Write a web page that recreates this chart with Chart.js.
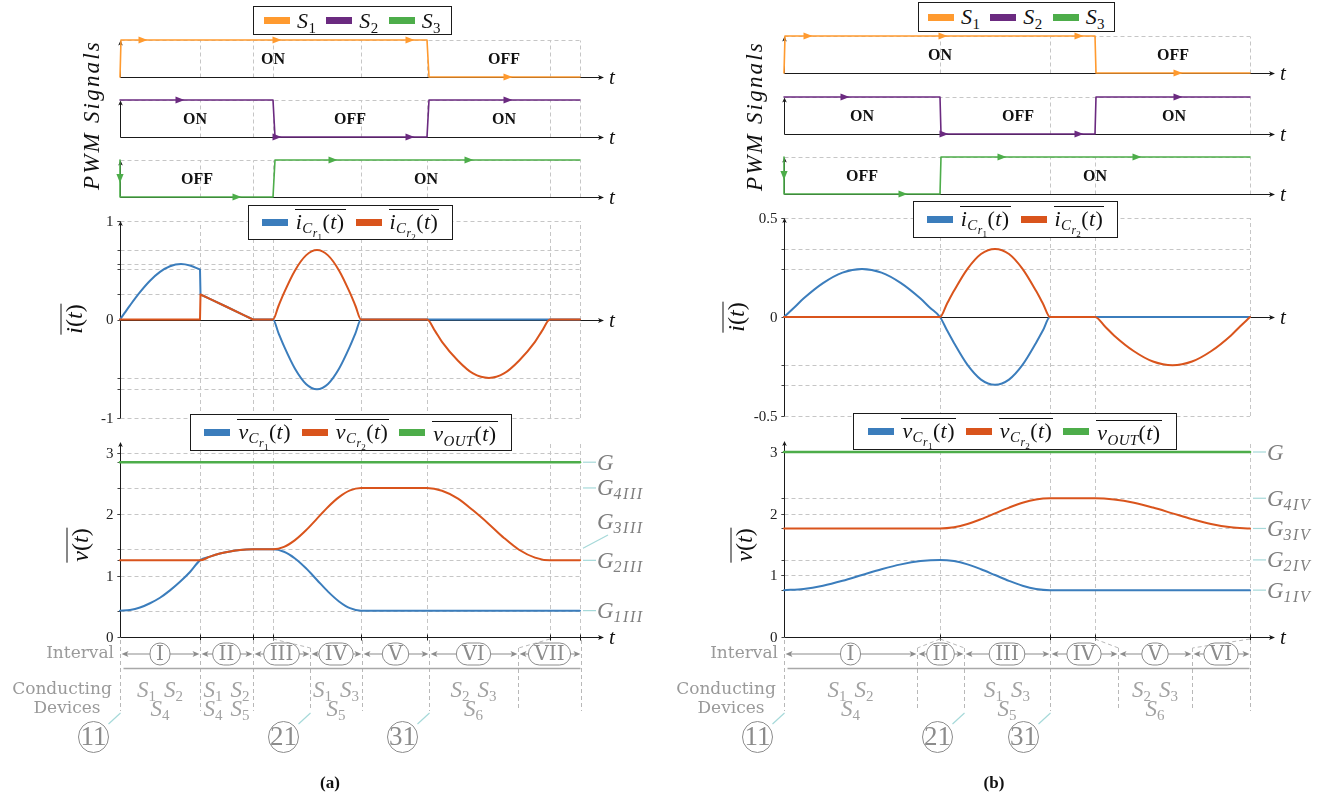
<!DOCTYPE html>
<html>
<head>
<meta charset="utf-8">
<script src="https://cdn.jsdelivr.net/npm/chart.js"></script>
<style>
html,body{margin:0;padding:0;background:#fff;}
#root{position:relative;width:1339px;height:799px;overflow:hidden;background:#fff;font-family:"Liberation Serif",serif;}
#root canvas{position:absolute;}
.lg{position:absolute;z-index:5;background:#fff;border:1.3px solid #1b1b1b;box-sizing:border-box;display:flex;align-items:center;justify-content:center;font-size:22px;color:#111;white-space:nowrap;}
.sw{display:inline-block;width:26px;height:7px;margin-right:7px;flex:none;}
.lb{margin-right:10px;line-height:22px;letter-spacing:0.4px;}
.lb:last-child{margin-right:0;}
.lb sub,.yt sub{font-size:68%;vertical-align:-0.32em;line-height:0;font-style:normal;}
.lb sub sub{font-size:78%;vertical-align:-0.3em;}
.ov{display:inline-block;border-top:1.2px solid #111;padding:1px 1px 0 1px;line-height:22px;}
.yt{position:absolute;z-index:4;transform:translate(-50%,-50%) rotate(-90deg);font-size:24px;white-space:nowrap;color:#111;}
.cap{position:absolute;z-index:4;transform:translate(-50%,-50%);font-weight:bold;font-size:17px;color:#111;}
</style>
</head>
<body>
<div id="root"></div>
<script>
// ================== DATA : panel (a) ==================
// (a null value only marks a break between two smooth pieces of the same curve)
const A_GRID_T = [0, 0.80, 1.33, 1.53, 2.41, 3.07, 4.30, 4.60];
const A_S1_T = [0, 0.01, 3.07, 3.09, 4.60];
const A_S1_Y = [0, 1, 1, 0, 0];
const A_S2_T = [0, 1.53, 1.55, 3.07, 3.09, 4.60];
const A_S2_Y = [1, 1, 0, 0, 1, 1];
const A_S3_T = [0, 0, 1.53, 1.55, 4.60];
const A_S3_Y = [1, 0, 0, 1, 1];
const A_S1_MARK_T = [0.23, 1.57, 2.90, 3.88];  const A_S1_MARK_Y = [1, 1, 1, 0];
const A_S2_MARK_T = [0.60, 1.57, 2.90, 3.88];  const A_S2_MARK_Y = [1, 0, 0, 1];
const A_S3_MARK_T = [1.17, 2.13, 3.49];        const A_S3_MARK_Y = [0, 1, 1];
const A_S1_TXT = ['ON', 'OFF'];        const A_S1_TXT_T = [1.53, 3.84];
const A_S2_TXT = ['ON', 'OFF', 'ON'];  const A_S2_TXT_T = [0.75, 2.30, 3.84];
const A_S3_TXT = ['OFF', 'ON'];        const A_S3_TXT_T = [0.77, 3.06];

const A_I1_T = [0,0.05,0.10,0.20,0.30,0.40,0.50,0.61,0.70,0.80, 0.80,0.80,0.805, 0.805,0.805,1.07,1.33, 1.33,1.33,1.53,1.585,1.64,1.75,1.86,1.97,2.08,2.19,2.30,2.355,2.41,4.60];
const A_I1_Y = [0,0.072,0.143,0.277,0.393,0.483,0.541,0.563,0.548,0.508, null,0.508,0.254, null,0.254,0.127,0, null,0,0,-0.138,-0.271,-0.50,-0.654,-0.708,-0.654,-0.50,-0.271,-0.138,0,0];
const A_I2_T = [0,0.80, 0.80,0.80,0.805, 0.805,0.805,1.07,1.33, 1.33,1.33,1.53,1.585,1.64,1.75,1.86,1.97,2.08,2.19,2.30,2.355,2.41,3.07,3.15,3.22,3.38,3.53,3.69,3.84,3.99,4.15,4.22,4.30,4.60];
const A_I2_Y = [0,0, null,0,0.254, null,0.254,0.127,0, null,0,0,0.137,0.27,0.498,0.651,0.705,0.651,0.498,0.27,0.137,0,0,-0.116,-0.227,-0.419,-0.548,-0.593,-0.548,-0.419,-0.227,-0.116,0,0];
const A_I_GRIDY = [1, 0.705, 0.563, 0.508, 0.254, -0.593, -0.708, -1];
const A_I_TICKS = [1, 0, -1];  const A_I_TICK_TXT = ['1', '0', '-1'];

const A_VO_T = [0, 4.60];  const A_VO_Y = [2.85, 2.85];
const A_V1_T = [0,0.10,0.20,0.30,0.40,0.50,0.60,0.70,0.80,0.90,1.00,1.10,1.20,1.33,1.53,1.64,1.75,1.86,1.97,2.08,2.19,2.30,2.41,4.60];
const A_V1_Y = [0.43,0.44,0.48,0.55,0.64,0.76,0.90,1.06,1.25,1.31,1.36,1.395,1.42,1.43,1.43,1.39,1.28,1.12,0.93,0.74,0.58,0.47,0.43,0.43];
const A_V2_T = [0,0.80,0.90,1.00,1.10,1.20,1.33,1.53,1.64,1.75,1.86,1.97,2.08,2.19,2.30,2.41,3.07,3.22,3.38,3.53,3.69,3.84,3.99,4.15,4.30,4.60];
const A_V2_Y = [1.25,1.25,1.31,1.36,1.395,1.42,1.43,1.43,1.47,1.58,1.74,1.93,2.12,2.28,2.39,2.43,2.43,2.385,2.257,2.065,1.84,1.615,1.423,1.295,1.25,1.25];
const A_V_GRIDY = [3, 2.85, 2.43, 2, 1.43, 1.25, 1, 0.43];
const A_V_TICKS = [0, 1, 2, 3];  const A_V_TICK_TXT = ['0', '1', '2', '3'];
const A_G_V   = [2.85, 2.43, 1.43, 1.25, 0.43];
const A_G_POS = [2.85, 2.43, 1.876, 1.25, 0.43];
const A_G_SUB = ['', '4III', '3III', '2III', '1III'];

const A_IV_B = [0, 0.80, 1.33, 1.90, 2.42, 3.09, 3.98, 4.61];
const A_IV_NAMES = ['I', 'II', 'III', 'IV', 'V', 'VI', 'VII'];
const A_DEV_IDX = [0, 1, 3, 5];
const A_DEV_L1 = [['1','2'], ['1','2'], ['1','3'], ['2','3']];
const A_DEV_L2 = [['4'], ['4','5'], ['5'], ['6']];
const A_CIRC = ['11', '21', '31'];  const A_CIRC_B = [0, 3, 5];
const A_CONN_FROM = [1.53, 4.30];   const A_CONN_TO = [3, 6];

// ================== DATA : panel (b) ==================
const B_GRID_T = [0, 1.56, 2.66, 3.11, 4.66];
const B_S1_T = [0, 0.01, 3.11, 3.12, 4.66];
const B_S1_Y = [0, 1, 1, 0, 0];
const B_S2_T = [0, 1.56, 1.57, 3.11, 3.12, 4.66];
const B_S2_Y = [1, 1, 0, 0, 1, 1];
const B_S3_T = [0, 0, 1.56, 1.57, 4.66];
const B_S3_Y = [1, 0, 0, 1, 1];
const B_S1_MARK_T = [0.24, 1.59, 2.95, 3.94];  const B_S1_MARK_Y = [1, 1, 1, 0];
const B_S2_MARK_T = [0.61, 1.60, 2.95, 3.94];  const B_S2_MARK_Y = [1, 0, 0, 1];
const B_S3_MARK_T = [1.19, 2.18, 3.53];        const B_S3_MARK_Y = [0, 1, 1];
const B_S1_TXT = ['ON', 'OFF'];        const B_S1_TXT_T = [1.56, 3.89];
const B_S2_TXT = ['ON', 'OFF', 'ON'];  const B_S2_TXT_T = [0.78, 2.34, 3.90];
const B_S3_TXT = ['OFF', 'ON'];        const B_S3_TXT_T = [0.78, 3.11];

const B_I1_T = [0,0.10,0.195,0.39,0.585,0.78,0.975,1.17,1.365,1.46,1.56,1.63,1.70,1.835,1.97,2.11,2.25,2.385,2.52,2.59,2.66,4.66];
const B_I1_Y = [0,0.047,0.093,0.171,0.224,0.242,0.224,0.171,0.093,0.047,0,-0.067,-0.131,-0.242,-0.316,-0.342,-0.316,-0.242,-0.131,-0.067,0,0];
const B_I2_T = [0,1.56,1.63,1.70,1.835,1.97,2.11,2.25,2.385,2.52,2.59,2.66,3.11,3.21,3.30,3.50,3.69,3.885,4.08,4.27,4.47,4.56,4.66];
const B_I2_Y = [0,0,0.067,0.132,0.243,0.318,0.344,0.318,0.243,0.132,0.067,0,0,-0.048,-0.093,-0.173,-0.225,-0.244,-0.225,-0.173,-0.093,-0.048,0];
const B_I_GRIDY = [0.5, 0.344, 0.242, -0.244, -0.342, -0.5];
const B_I_TICKS = [0.5, 0, -0.5];  const B_I_TICK_TXT = ['0.5', '0', '-0.5'];

const B_VO_T = [0, 4.66];  const B_VO_Y = [3.0, 3.0];
const B_V1_T = [0,0.195,0.39,0.585,0.78,0.975,1.17,1.365,1.56,1.70,1.835,1.97,2.11,2.25,2.385,2.52,2.66,4.66];
const B_V1_Y = [0.76,0.779,0.832,0.911,1.005,1.099,1.178,1.231,1.25,1.231,1.178,1.099,1.005,0.911,0.832,0.779,0.76,0.76];
const B_V2_T = [0,1.56,1.70,1.835,1.97,2.11,2.25,2.385,2.52,2.66,3.11,3.30,3.50,3.69,3.885,4.08,4.27,4.47,4.66];
const B_V2_Y = [1.76,1.76,1.779,1.832,1.911,2.005,2.099,2.178,2.231,2.25,2.25,2.231,2.178,2.099,2.005,1.911,1.832,1.779,1.76];
const B_V_GRIDY = [3, 2.25, 2, 1.76, 1.25, 1, 0.76];
const B_V_TICKS = [0, 1, 2, 3];  const B_V_TICK_TXT = ['0', '1', '2', '3'];
const B_G_V   = [3.0, 2.25, 1.76, 1.25, 0.76];
const B_G_POS = [3.0, 2.25, 1.76, 1.25, 0.76];
const B_G_SUB = ['', '4IV', '3IV', '2IV', '1IV'];

const B_IV_B = [0, 1.33, 1.80, 2.66, 3.34, 4.08, 4.66];
const B_IV_NAMES = ['I', 'II', 'III', 'IV', 'V', 'VI'];
const B_DEV_IDX = [0, 2, 4];
const B_DEV_L1 = [['1','2'], ['1','3'], ['2','3']];
const B_DEV_L2 = [['4'], ['5'], ['6']];
const B_CIRC = ['11', '21', '31'];  const B_CIRC_B = [0, 2, 3];
const B_CONN_FROM = [1.56, 1.56, 3.11, 4.66];  const B_CONN_TO = [1, 2, 4, 5];

// ================== STYLE ==================
const C_S1 = '#ff9a2f', C_S2 = '#6b2a80', C_S3 = '#4dad4a';
const C_BLUE = '#3b7dbc', C_RED = '#d9541c', C_GREEN = '#4dad4a';
const GRID = '#c6c6c6', AXIS = '#1a1a1a', ANN = '#8c8c8c', ANN_T = '#9a9a9a', LEAD = '#a6d9d9', GLAB = '#7f7f7f';

const root = document.getElementById('root');
function P(ts, ys) { return ts.map((t, i) => ({ x: t, y: ys[i] })); }
function seg(ctx, x1, y1, x2, y2) { ctx.beginPath(); ctx.moveTo(x1, y1); ctx.lineTo(x2, y2); ctx.stroke(); }
function head(ctx, x, y, ang, len, hw, col) {
  ctx.save(); ctx.translate(x, y); ctx.rotate(ang); ctx.fillStyle = col;
  ctx.beginPath(); ctx.moveTo(0, 0); ctx.lineTo(-len, -hw); ctx.lineTo(-len * 0.75, 0); ctx.lineTo(-len, hw); ctx.closePath(); ctx.fill();
  ctx.restore();
}
function tri(ctx, x, y, ang, len, hw, col) {
  ctx.save(); ctx.translate(x, y); ctx.rotate(ang); ctx.fillStyle = col;
  ctx.beginPath(); ctx.moveTo(len / 2, 0); ctx.lineTo(-len / 2, -hw); ctx.lineTo(-len / 2, hw); ctx.closePath(); ctx.fill();
  ctx.restore();
}
function ds(ts, ys, color, width, smooth, order) {
  return { data: P(ts, ys), borderColor: color, backgroundColor: color, borderWidth: width, fill: false,
    pointRadius: 0, tension: 0, cubicInterpolationMode: smooth ? 'monotone' : 'default', clip: false, order: order || 0,
    borderCapStyle: 'round', borderJoinStyle: 'round' };
}
function makeChart(o) {
  const cv = document.createElement('canvas');
  cv.width = o.w; cv.height = o.h;
  cv.style.left = o.left + 'px'; cv.style.top = o.top + 'px';
  cv.style.width = o.w + 'px'; cv.style.height = o.h + 'px';
  root.appendChild(cv);
  return new Chart(cv, {
    type: 'line',
    data: { datasets: o.datasets },
    options: {
      responsive: false, maintainAspectRatio: false, animation: false, events: [], devicePixelRatio: 1,
      layout: { padding: o.pad },
      plugins: { legend: { display: false }, tooltip: { enabled: false } },
      scales: {
        x: { type: 'linear', min: 0, max: o.xmax, display: false },
        y: { type: 'linear', min: o.ymin, max: o.ymax, display: false }
      },
      elements: { point: { radius: 0, hoverRadius: 0 } }
    },
    plugins: [o.decor]
  });
}

// ---------- PWM decoration ----------
function pwmDecor(s) {
  return {
    id: 'decor',
    beforeDatasetsDraw(ch) {
      const ctx = ch.ctx, X = v => ch.scales.x.getPixelForValue(v), Y = v => ch.scales.y.getPixelForValue(v), ca = ch.chartArea;
      const x0 = Math.round(X(0)) + 0.5, y0 = Math.round(Y(0)) + 0.5, y1 = Math.round(Y(1)) + 0.5;
      const xg = X(s.grid[s.grid.length - 1]);
      ctx.save();
      ctx.lineWidth = 1; ctx.strokeStyle = GRID; ctx.setLineDash([4, 3]);
      s.grid.forEach(t => { if (t > 0) { const x = Math.round(X(t)) + 0.5; seg(ctx, x, y0, x, y1); } });
      seg(ctx, x0, y1, xg, y1);
      ctx.setLineDash([]); ctx.strokeStyle = AXIS; ctx.lineWidth = 1;
      seg(ctx, x0, y0, ca.right - 3, y0); head(ctx, ca.right + 1, y0, 0, 6, 2.6, AXIS);
      seg(ctx, x0, y0, x0, y1 + 3); head(ctx, x0, y1, -Math.PI / 2, 5, 2.3, AXIS);
      ctx.fillStyle = '#111'; ctx.font = 'italic 21px "Liberation Serif"'; ctx.textAlign = 'left'; ctx.textBaseline = 'middle';
      ctx.fillText('t', ca.right + 6, y0 + 1);
      ctx.restore();
    },
    afterDatasetsDraw(ch) {
      const ctx = ch.ctx, X = v => ch.scales.x.getPixelForValue(v), Y = v => ch.scales.y.getPixelForValue(v);
      ctx.save();
      s.markT.forEach((t, i) => tri(ctx, X(t), Y(s.markY[i]), 0, 9, 3.6, s.color));
      if (s.down) tri(ctx, X(0), Y(0.5), Math.PI / 2, 9, 3.6, s.color);
      ctx.fillStyle = '#111'; ctx.font = 'bold 16px "Liberation Serif"'; ctx.textAlign = 'center'; ctx.textBaseline = 'middle';
      s.txt.forEach((t, i) => ctx.fillText(t, X(s.txtT[i]), Y(0.5) + 1));
      ctx.restore();
    }
  };
}

function drawSubs(ctx, subs, cx, yc, col) {
  const fS = 'italic 23px "Liberation Serif"', fN = '15px "Liberation Serif"', gap = 8;
  ctx.font = fS; const wS = ctx.measureText('S').width;
  ctx.font = fN; const wN = subs.map(n => ctx.measureText(n).width);
  const total = subs.length * wS + wN.reduce((a, b) => a + b, 0) + gap * (subs.length - 1);
  let x = cx - total / 2;
  ctx.fillStyle = col; ctx.textAlign = 'left'; ctx.textBaseline = 'alphabetic';
  subs.forEach((n, i) => {
    ctx.font = fS; ctx.fillText('S', x, yc + 7.5); x += wS;
    ctx.font = fN; ctx.fillText(n, x, yc + 11.5); x += wN[i] + gap;
  });
}

// ---------- current / voltage decoration ----------
function plotDecor(s) {
  return {
    id: 'decor',
    beforeDatasetsDraw(ch) {
      const ctx = ch.ctx, X = v => ch.scales.x.getPixelForValue(v), Y = v => ch.scales.y.getPixelForValue(v), ca = ch.chartArea;
      const x0 = Math.round(X(0)) + 0.5, xg = X(s.grid[s.grid.length - 1]);
      ctx.save();
      ctx.lineWidth = 1; ctx.strokeStyle = GRID; ctx.setLineDash([4, 3]);
      s.grid.forEach(t => { if (t > 0) { const x = Math.round(X(t)) + 0.5; seg(ctx, x, Y(s.vBot), x, Y(s.vTop)); } });
      s.gridY.forEach(v => { const y = Math.round(Y(v)) + 0.5; seg(ctx, x0, y, xg, y); });
      ctx.setLineDash([]);
      ctx.strokeStyle = '#444';
      s.gridY.concat(s.ticks).forEach(v => { const y = Math.round(Y(v)) + 0.5; seg(ctx, x0 - 3, y, x0, y); });
      ctx.fillStyle = '#222'; ctx.font = '15px "Liberation Serif"'; ctx.textAlign = 'right'; ctx.textBaseline = 'middle';
      s.ticks.forEach((v, i) => ctx.fillText(s.tickTxt[i], x0 - 7, Y(v) + 1));
      const ya = Math.round(Y(s.xAxisAt)) + 0.5;
      ctx.strokeStyle = AXIS; ctx.lineWidth = 1;
      if (s.xticks) s.grid.forEach(t => { if (t > 0) { const x = Math.round(X(t)) + 0.5; seg(ctx, x, ya - 3, x, ya + 3); } });
      seg(ctx, x0, ya, ca.right - 3, ya); head(ctx, ca.right + 1, ya, 0, 6, 2.6, AXIS);
      seg(ctx, x0, Y(s.yBot), x0, Y(s.yTop) + 3); head(ctx, x0, Y(s.yTop), -Math.PI / 2, 5, 2.3, AXIS);
      ctx.fillStyle = '#111'; ctx.font = 'italic 21px "Liberation Serif"'; ctx.textAlign = 'left'; ctx.textBaseline = 'middle';
      ctx.fillText('t', ca.right + 6, ya + 1);
      ctx.restore();
    },
    afterDatasetsDraw(ch) {
      const ctx = ch.ctx, X = v => ch.scales.x.getPixelForValue(v), Y = v => ch.scales.y.getPixelForValue(v);
      const xg = X(s.grid[s.grid.length - 1]);
      ctx.save();
      if (s.g) {
        s.g.v.forEach((v, i) => {
          const yv = Y(v), yl = Y(s.g.pos[i]);
          ctx.strokeStyle = LEAD; ctx.lineWidth = 1.2;
          if (Math.abs(yv - yl) < 1) seg(ctx, xg + 3, yv, xg + 16, yv);
          else seg(ctx, xg + 3, yv - 1, xg + 28, yl + 13);
          ctx.fillStyle = GLAB; ctx.textAlign = 'left'; ctx.textBaseline = 'alphabetic';
          ctx.font = 'italic 23px "Liberation Serif"';
          ctx.fillText('G', xg + 17, yl + 7.5);
          const w = ctx.measureText('G').width;
          if (s.g.sub[i]) {
            ctx.font = 'italic 16px "Liberation Serif"';
            try { ctx.letterSpacing = '1.5px'; } catch (e) {}
            ctx.fillText(s.g.sub[i], xg + 17 + w, yl + 11.5);
            try { ctx.letterSpacing = '0px'; } catch (e) {}
          }
        });
      }
      if (s.iv) {
        const iv = s.iv, b = iv.b, y0 = Math.round(Y(0));
        const rowY = y0 + 17, lineY = y0 + 31.5, d1 = y0 + 52, d2 = y0 + 71, cy = y0 + 100;
        const XB = i => Math.round(X(b[i])) + 0.5;
        ctx.strokeStyle = '#b8b8b8'; ctx.lineWidth = 1; ctx.setLineDash([4, 3]);
        const targets = new Set(iv.connTo);
        iv.connFrom.forEach((t, k) => seg(ctx, X(t), y0 + 2, XB(iv.connTo[k]), y0 + 11));
        b.forEach((t, i) => seg(ctx, XB(i), targets.has(i) ? y0 + 11 : y0 + 3, XB(i), y0 + 74));
        ctx.setLineDash([]);
        ctx.strokeStyle = ANN; ctx.lineWidth = 1.2;
        for (let i = 0; i < b.length - 1; i++) {
          const xs = XB(i) + 1, xe = XB(i + 1) - 1;
          seg(ctx, xs + 3, rowY, xe - 3, rowY);
          head(ctx, xs, rowY, Math.PI, 7, 3, ANN);
          head(ctx, xe, rowY, 0, 7, 3, ANN);
        }
        ctx.font = '20px "DejaVu Serif"'; ctx.textAlign = 'center'; ctx.textBaseline = 'middle';
        iv.names.forEach((n, i) => {
          const cx = (X(b[i]) + X(b[i + 1])) / 2, w = ctx.measureText(n).width + 12, h = 22;
          ctx.beginPath(); ctx.roundRect(cx - w / 2, rowY - h / 2, w, h, 11);
          ctx.fillStyle = '#fff'; ctx.fill(); ctx.strokeStyle = ANN; ctx.lineWidth = 1; ctx.stroke();
          ctx.fillStyle = ANN; ctx.fillText(n, cx, rowY + 1);
        });
        ctx.strokeStyle = '#a8a8a8'; ctx.lineWidth = 1.6;
        seg(ctx, XB(0) + 3, lineY, XB(b.length - 1) - 1, lineY);
        ctx.fillStyle = ANN_T; ctx.font = '17px "DejaVu Serif"'; ctx.textBaseline = 'middle';
        ctx.textAlign = 'right'; ctx.fillText('Interval', X(0) - 6, rowY);
        ctx.textAlign = 'center';
        ctx.fillText('Conducting', X(0) - 58, d1 + 1);
        ctx.fillText('Devices', X(0) - 53, d2 + 1);
        iv.devIdx.forEach((k, j) => {
          const cx = (X(b[k]) + X(b[k + 1])) / 2;
          drawSubs(ctx, iv.l1[j], cx, d1, '#a2a2a2');
          drawSubs(ctx, iv.l2[j], cx, d2, '#a2a2a2');
        });
        iv.circ.forEach((txt, k) => {
          const xb = XB(iv.circB[k]), cx = xb - 27;
          ctx.strokeStyle = LEAD; ctx.lineWidth = 1.2; seg(ctx, xb, y0 + 76, xb - 12, y0 + 87);
          ctx.beginPath(); ctx.ellipse(cx, cy, 15, 15.5, 0, 0, Math.PI * 2);
          ctx.strokeStyle = ANN; ctx.lineWidth = 1; ctx.stroke();
          ctx.fillStyle = ANN; ctx.font = '27px "Liberation Serif"'; ctx.textAlign = 'center'; ctx.textBaseline = 'middle';
          ctx.fillText(txt, cx, cy + 1);
        });
      }
      ctx.restore();
    }
  };
}

// ---------- build a panel ----------
function panel(p) {
  const pad = (t, b) => ({ left: p.x0 - p.left, right: p.left + p.w - (p.x0 + p.xmax * 100), top: t, bottom: b });
  const pw = [
    { t: p.s1t, y: p.s1y, c: C_S1, mt: p.m1t, my: p.m1y, tx: p.tx1, txt: p.tx1t, yy: p.pwmY[0], down: false },
    { t: p.s2t, y: p.s2y, c: C_S2, mt: p.m2t, my: p.m2y, tx: p.tx2, txt: p.tx2t, yy: p.pwmY[1], down: false },
    { t: p.s3t, y: p.s3y, c: C_S3, mt: p.m3t, my: p.m3y, tx: p.tx3, txt: p.tx3t, yy: p.pwmY[2], down: true }
  ];
  pw.forEach(q => {
    const [y1, y0] = q.yy;
    makeChart({
      left: p.left, top: y1 - 14, w: p.w, h: (y0 - y1) + 28, pad: pad(14, 14), xmax: p.xmax, ymin: 0, ymax: 1,
      datasets: [ds(q.t, q.y, q.c, 1.6, false)],
      decor: pwmDecor({ grid: p.grid, color: q.c, markT: q.mt, markY: q.my, txt: q.tx, txtT: q.txt, down: q.down })
    });
  });
  const [iTop, iBot] = p.iY;
  makeChart({
    left: p.left, top: iTop - 16, w: p.w, h: (iBot - iTop) + 30, pad: pad(16, 14), xmax: p.xmax, ymin: p.iMin, ymax: p.iMax,
    datasets: [ds(p.i2t, p.i2y, C_RED, 2, true, 0), ds(p.i1t, p.i1y, C_BLUE, 2, true, 1)],
    decor: plotDecor({ grid: p.grid, gridY: p.iGridY, vTop: p.iMax, vBot: p.iMin, ticks: p.iTicks, tickTxt: p.iTickTxt,
      xAxisAt: 0, yBot: p.iMin, yTop: p.iMax })
  });
  const [vTop, vBot] = p.vY;
  makeChart({
    left: p.left, top: vTop - 20, w: p.w, h: 799 - (vTop - 20), pad: pad(20, 799 - vBot), xmax: p.xmax, ymin: 0, ymax: 3,
    datasets: [ds(p.vot, p.voy, C_GREEN, 2.6, false, 0), ds(p.v2t, p.v2y, C_RED, 2, true, 1), ds(p.v1t, p.v1y, C_BLUE, 2, true, 2)],
    decor: plotDecor({ grid: p.grid, gridY: p.vGridY, vTop: 3.16, vBot: 0, ticks: p.vTicks, tickTxt: p.vTickTxt,
      xAxisAt: 0, yBot: 0, yTop: 3.18, xticks: true, g: p.g, iv: p.iv })
  });
}

panel({
  left: 0, w: 669, x0: 120, xmax: 4.83, grid: A_GRID_T,
  pwmY: [[40, 77], [100, 137], [160, 197]],
  s1t: A_S1_T, s1y: A_S1_Y, s2t: A_S2_T, s2y: A_S2_Y, s3t: A_S3_T, s3y: A_S3_Y,
  m1t: A_S1_MARK_T, m1y: A_S1_MARK_Y, m2t: A_S2_MARK_T, m2y: A_S2_MARK_Y, m3t: A_S3_MARK_T, m3y: A_S3_MARK_Y,
  tx1: A_S1_TXT, tx1t: A_S1_TXT_T, tx2: A_S2_TXT, tx2t: A_S2_TXT_T, tx3: A_S3_TXT, tx3t: A_S3_TXT_T,
  iY: [221, 418], iMin: -1, iMax: 1, i1t: A_I1_T, i1y: A_I1_Y, i2t: A_I2_T, i2y: A_I2_Y,
  iGridY: A_I_GRIDY, iTicks: A_I_TICKS, iTickTxt: A_I_TICK_TXT,
  vY: [453, 637], vot: A_VO_T, voy: A_VO_Y, v1t: A_V1_T, v1y: A_V1_Y, v2t: A_V2_T, v2y: A_V2_Y,
  vGridY: A_V_GRIDY, vTicks: A_V_TICKS, vTickTxt: A_V_TICK_TXT,
  g: { v: A_G_V, pos: A_G_POS, sub: A_G_SUB },
  iv: { b: A_IV_B, names: A_IV_NAMES, devIdx: A_DEV_IDX, l1: A_DEV_L1, l2: A_DEV_L2, circ: A_CIRC, circB: A_CIRC_B,
        connFrom: A_CONN_FROM, connTo: A_CONN_TO }
});
panel({
  left: 669, w: 670, x0: 784, xmax: 4.90, grid: B_GRID_T,
  pwmY: [[36, 73], [97, 134], [157, 194]],
  s1t: B_S1_T, s1y: B_S1_Y, s2t: B_S2_T, s2y: B_S2_Y, s3t: B_S3_T, s3y: B_S3_Y,
  m1t: B_S1_MARK_T, m1y: B_S1_MARK_Y, m2t: B_S2_MARK_T, m2y: B_S2_MARK_Y, m3t: B_S3_MARK_T, m3y: B_S3_MARK_Y,
  tx1: B_S1_TXT, tx1t: B_S1_TXT_T, tx2: B_S2_TXT, tx2t: B_S2_TXT_T, tx3: B_S3_TXT, tx3t: B_S3_TXT_T,
  iY: [218, 416], iMin: -0.5, iMax: 0.5, i1t: B_I1_T, i1y: B_I1_Y, i2t: B_I2_T, i2y: B_I2_Y,
  iGridY: B_I_GRIDY, iTicks: B_I_TICKS, iTickTxt: B_I_TICK_TXT,
  vY: [452, 637], vot: B_VO_T, voy: B_VO_Y, v1t: B_V1_T, v1y: B_V1_Y, v2t: B_V2_T, v2y: B_V2_Y,
  vGridY: B_V_GRIDY, vTicks: B_V_TICKS, vTickTxt: B_V_TICK_TXT,
  g: { v: B_G_V, pos: B_G_POS, sub: B_G_SUB },
  iv: { b: B_IV_B, names: B_IV_NAMES, devIdx: B_DEV_IDX, l1: B_DEV_L1, l2: B_DEV_L2, circ: B_CIRC, circB: B_CIRC_B,
        connFrom: B_CONN_FROM, connTo: B_CONN_TO }
});

// ---------- HTML legends and titles ----------
const LS = n => `<i>S</i><sub>${n}</sub>`;
const LI = n => `<span class="ov"><i>i</i><sub><i>C</i><sub><i>r</i><sub>${n}</sub></sub></sub>(<i>t</i>)</span>`;
const LV = n => `<span class="ov"><i>v</i><sub><i>C</i><sub><i>r</i><sub>${n}</sub></sub></sub>(<i>t</i>)</span>`;
const LVO = `<span class="ov"><i>v</i><sub><i>OUT</i></sub>(<i>t</i>)</span>`;
function legend(l, t, w, h, items) {
  const d = document.createElement('div'); d.className = 'lg';
  d.style.cssText = `left:${l}px;top:${t}px;width:${w}px;height:${h}px;`;
  d.innerHTML = items.map(it => `<span class="sw" style="background:${it[0]}"></span><span class="lb">${it[1]}</span>`).join('');
  root.appendChild(d);
}
legend(253, 6, 199, 29, [[C_S1, LS(1)], [C_S2, LS(2)], [C_S3, LS(3)]]);
legend(248, 205, 205, 35, [[C_BLUE, LI(1)], [C_RED, LI(2)]]);
legend(190, 414, 322, 37, [[C_BLUE, LV(1)], [C_RED, LV(2)], [C_GREEN, LVO]]);
legend(918, 2, 197, 30, [[C_S1, LS(1)], [C_S2, LS(2)], [C_S3, LS(3)]]);
legend(913, 201, 205, 37, [[C_BLUE, LI(1)], [C_RED, LI(2)]]);
legend(853, 413, 324, 37, [[C_BLUE, LV(1)], [C_RED, LV(2)], [C_GREEN, LVO]]);

function ytitle(x, y, html, extra) {
  const d = document.createElement('div'); d.className = 'yt';
  d.style.left = x + 'px'; d.style.top = y + 'px';
  if (extra) d.style.cssText += extra;
  d.innerHTML = html; root.appendChild(d);
}
const PWM_T = '<i>PWM Signals</i>';
const IT = '<span class="ov"><i>i</i>(<i>t</i>)</span>';
const VT = '<span class="ov"><i>v</i>(<i>t</i>)</span>';
ytitle(92, 115, PWM_T, 'letter-spacing:2.2px;font-size:23px;');
ytitle(74, 319, IT);
ytitle(80, 545, VT);
ytitle(755, 116, PWM_T, 'letter-spacing:2.2px;font-size:23px;');
ytitle(736, 317, IT);
ytitle(744, 545, VT);

function cap(x, y, txt) { const d = document.createElement('div'); d.className = 'cap'; d.style.left = x + 'px'; d.style.top = y + 'px'; d.textContent = txt; root.appendChild(d); }
cap(330, 783, '(a)');
cap(994, 783, '(b)');
</script>
</body>
</html>
